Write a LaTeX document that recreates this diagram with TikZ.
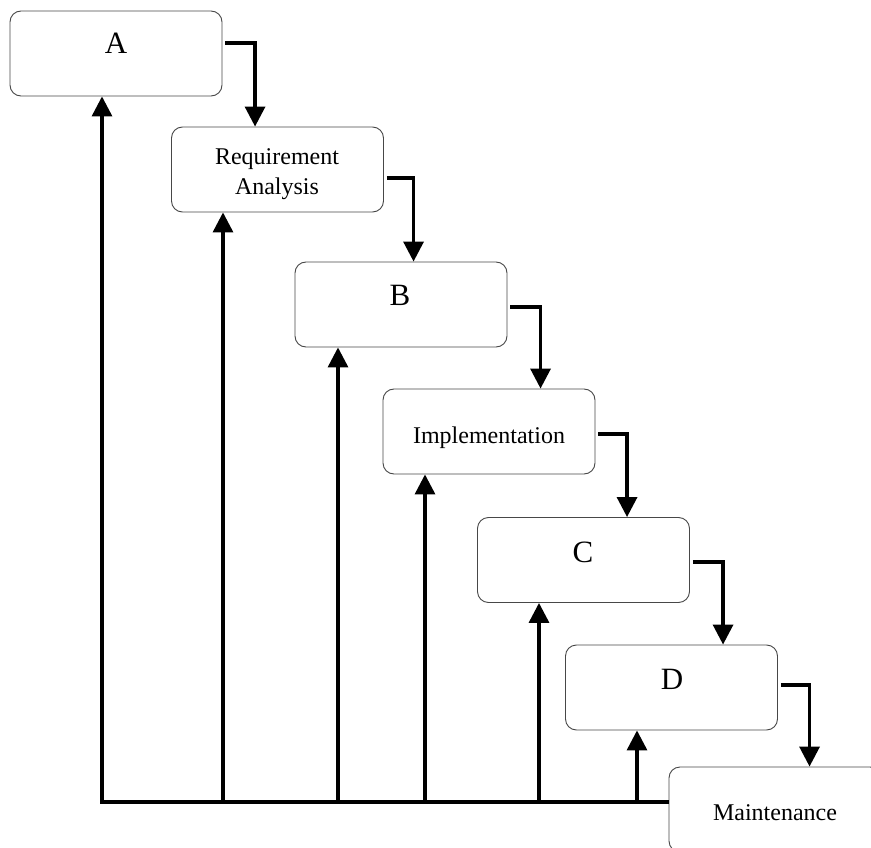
\documentclass[tikz,border=0pt]{standalone}
\usepackage{fontspec}
\setmainfont{Liberation Serif}
\usetikzlibrary{arrows.meta}

\begin{document}
\begin{tikzpicture}[x=1pt,y=-1pt,
  stage/.style={draw=black!72, line width=0.9pt, rounded corners=11pt,
    minimum width=212pt, minimum height=85pt, inner sep=0pt, fill=white},
  big/.style={font=\fontsize{31}{31}\selectfont, anchor=base, inner sep=0pt},
  small/.style={font=\fontsize{24}{30}\selectfont, anchor=base, inner sep=0pt, align=center},
  flow/.style={line width=3.3pt, -{Triangle[width=20pt,length=20pt]}}]
  \useasboundingbox (0,0) rectangle (871,848);
  \clip (0,0) rectangle (871,848);

  % stage boxes, stepping down to the right
  \node[stage] (A)    at (116,  53.5) {};
  \node[stage] (RA)   at (277.5,169.5) {};
  \node[stage] (B)    at (401,  304.5) {};
  \node[stage] (Impl) at (489,  431.5) {};
  \node[stage] (C)    at (583.5,560) {};
  \node[stage] (D)    at (671.5,687.5) {};
  \node[stage] (M)    at (775,  809.5) {};

  % labels
  \node[big]   (lA)    at (116, 54)  {A};
  \node[small] (lRA1)  at (277, 165) {Requirement};
  \node[small] (lRA2)  at (277, 195) {Analysis};
  \node[big]   (lB)    at (400, 305) {B};
  \node[small] (lImpl) at (489, 443) {Implementation};
  \node[big]   (lC)    at (583, 562) {C};
  \node[big]   (lD)    at (672, 689) {D};
  \node[small] (lM)    at (775, 820) {Maintenance};

  % forward flow: right side of each stage to the top of the next
  \draw[flow] ([xshift=3pt,yshift=10.5pt]A.east)  -| ([xshift=84pt]RA.north west);
  \draw[flow] ([xshift=3pt,yshift=-8.5pt]RA.east) -| ([xshift=119pt]B.north west);
  \draw[flow] ([xshift=3pt,yshift=-2.5pt]B.east)  -| ([xshift=158pt]Impl.north west);
  \draw[flow] ([xshift=3pt,yshift=-2.5pt]Impl.east) -| ([xshift=150pt]C.north west);
  \draw[flow] ([xshift=3pt,yshift=-2pt]C.east)    -| ([xshift=158pt]D.north west);
  \draw[flow] ([xshift=3pt,yshift=2.5pt]D.east)   -| ([xshift=141pt]M.north west);

  % feedback: bottom rail with arrows up into every earlier stage
  \coordinate (fb) at (102,802);
  \coordinate (uA)    at ([xshift=-14pt]A.south);
  \coordinate (uRA)   at ([xshift=-54.5pt]RA.south);
  \coordinate (uB)    at ([xshift=-63pt]B.south);
  \coordinate (uImpl) at ([xshift=-64pt]Impl.south);
  \coordinate (uC)    at ([xshift=-44.5pt]C.south);
  \coordinate (uD)    at ([xshift=-34.5pt]D.south);

  \draw[flow] (M.west |- fb) -- (fb) -- (uA);
  \draw[flow] (fb -| uRA)   -- (uRA);
  \draw[flow] (fb -| uB)    -- (uB);
  \draw[flow] (fb -| uImpl) -- (uImpl);
  \draw[flow] (fb -| uC)    -- (uC);
  \draw[flow] (fb -| uD)    -- (uD);
\end{tikzpicture}
\end{document}
